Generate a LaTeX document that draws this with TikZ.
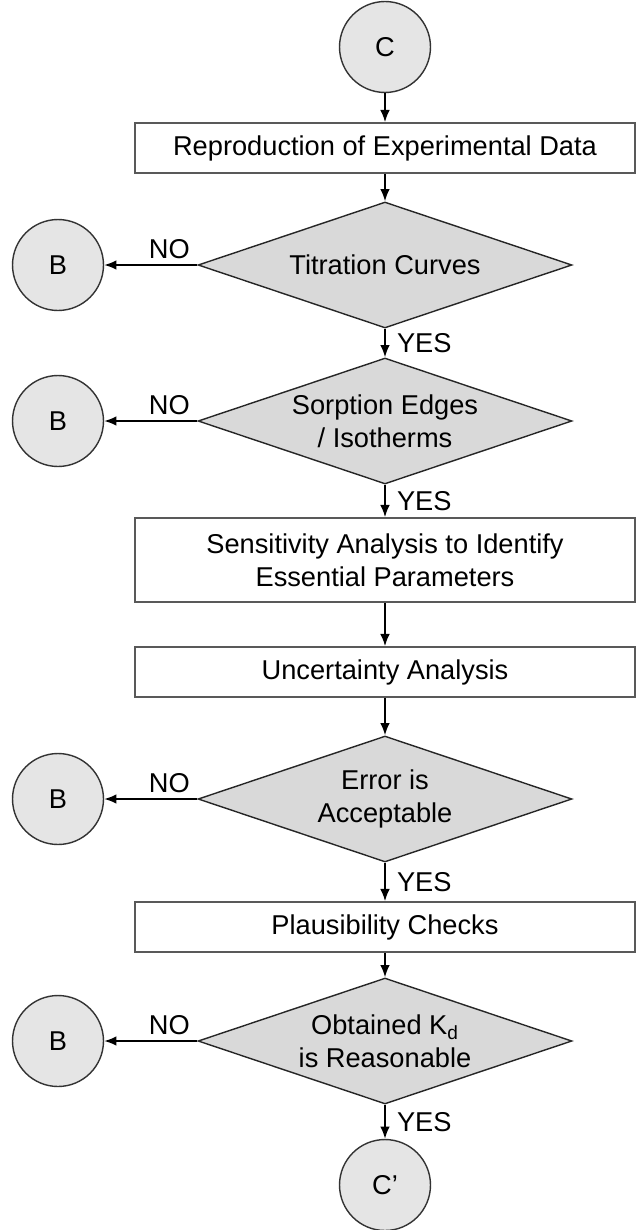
\documentclass[tikz,border=0pt]{standalone}
\usepackage{fontspec}
\setmainfont{Liberation Sans}
\usepackage{tikz}
\usetikzlibrary{arrows.meta,shapes.geometric}

\begin{document}
\begin{tikzpicture}[x=0.02cm,y=-0.02cm,
  every node/.style={font=\fontsize{15.5}{19}\selectfont},
  conn/.style={circle,draw=black!80,fill=black!10,line width=0.8pt,minimum size=1.82cm,inner sep=0pt},
  stepbox/.style={rectangle,draw=black!65,fill=white,line width=0.9pt,minimum width=10cm,minimum height=1cm,align=center},
  check/.style={diamond,aspect=2.97,draw=black!85,fill=black!15,line width=0.8pt,minimum width=7.48cm,minimum height=2.52cm,inner sep=0pt,align=center},
  flow/.style={draw=black,line width=1pt,-{Latex[length=7pt,width=5.5pt]}},
  yes/.style={right,xshift=3pt},
  no/.style={above,pos=0.3}]
\useasboundingbox (0,0) rectangle (636,1230);
% main column
\node[conn] (C) at (385,47) {C};
\node[stepbox] (repro) at (385,148) {Reproduction of Experimental Data};
\node[check] (titr) at (385,265) {Titration Curves};
\node[check] (sorp) at (385,421) {Sorption Edges\\/ Isotherms};
\node[stepbox,minimum height=1.68cm] (sens) at (385,560) {Sensitivity Analysis to Identify\\Essential Parameters};
\node[stepbox] (unc) at (385,672) {Uncertainty Analysis};
\node[check] (err) at (385,799) {Error is\\Acceptable};
\node[stepbox] (plaus) at (385,927) {Plausibility Checks};
\node[check] (kd) at (385,1041) {Obtained K\textsubscript{d}\\is Reasonable};
\node[conn] (Cp) at (385,1185) {C’};
% exits to B
\node[conn] (b1) at (58,265) {B};
\node[conn] (b2) at (58,421) {B};
\node[conn] (b3) at (58,799) {B};
\node[conn] (b4) at (58,1041) {B};

\draw[flow] (C) -- (repro);
\draw[flow] (repro) -- (titr);
\draw[flow] (titr.south) -- node[yes]{YES} (sorp.north);
\draw[flow] (sorp.south) -- node[yes]{YES} (sens);
\draw[flow] (sens) -- (unc);
\draw[flow] (unc) -- (err);
\draw[flow] (err.south) -- node[yes]{YES} (plaus);
\draw[flow] (plaus) -- (kd);
\draw[flow] (kd.south) -- node[yes]{YES} (Cp);

\draw[flow] (titr.west) -- node[no]{NO} (b1);
\draw[flow] (sorp.west) -- node[no]{NO} (b2);
\draw[flow] (err.west) -- node[no]{NO} (b3);
\draw[flow] (kd.west) -- node[no]{NO} (b4);
\end{tikzpicture}
\end{document}
